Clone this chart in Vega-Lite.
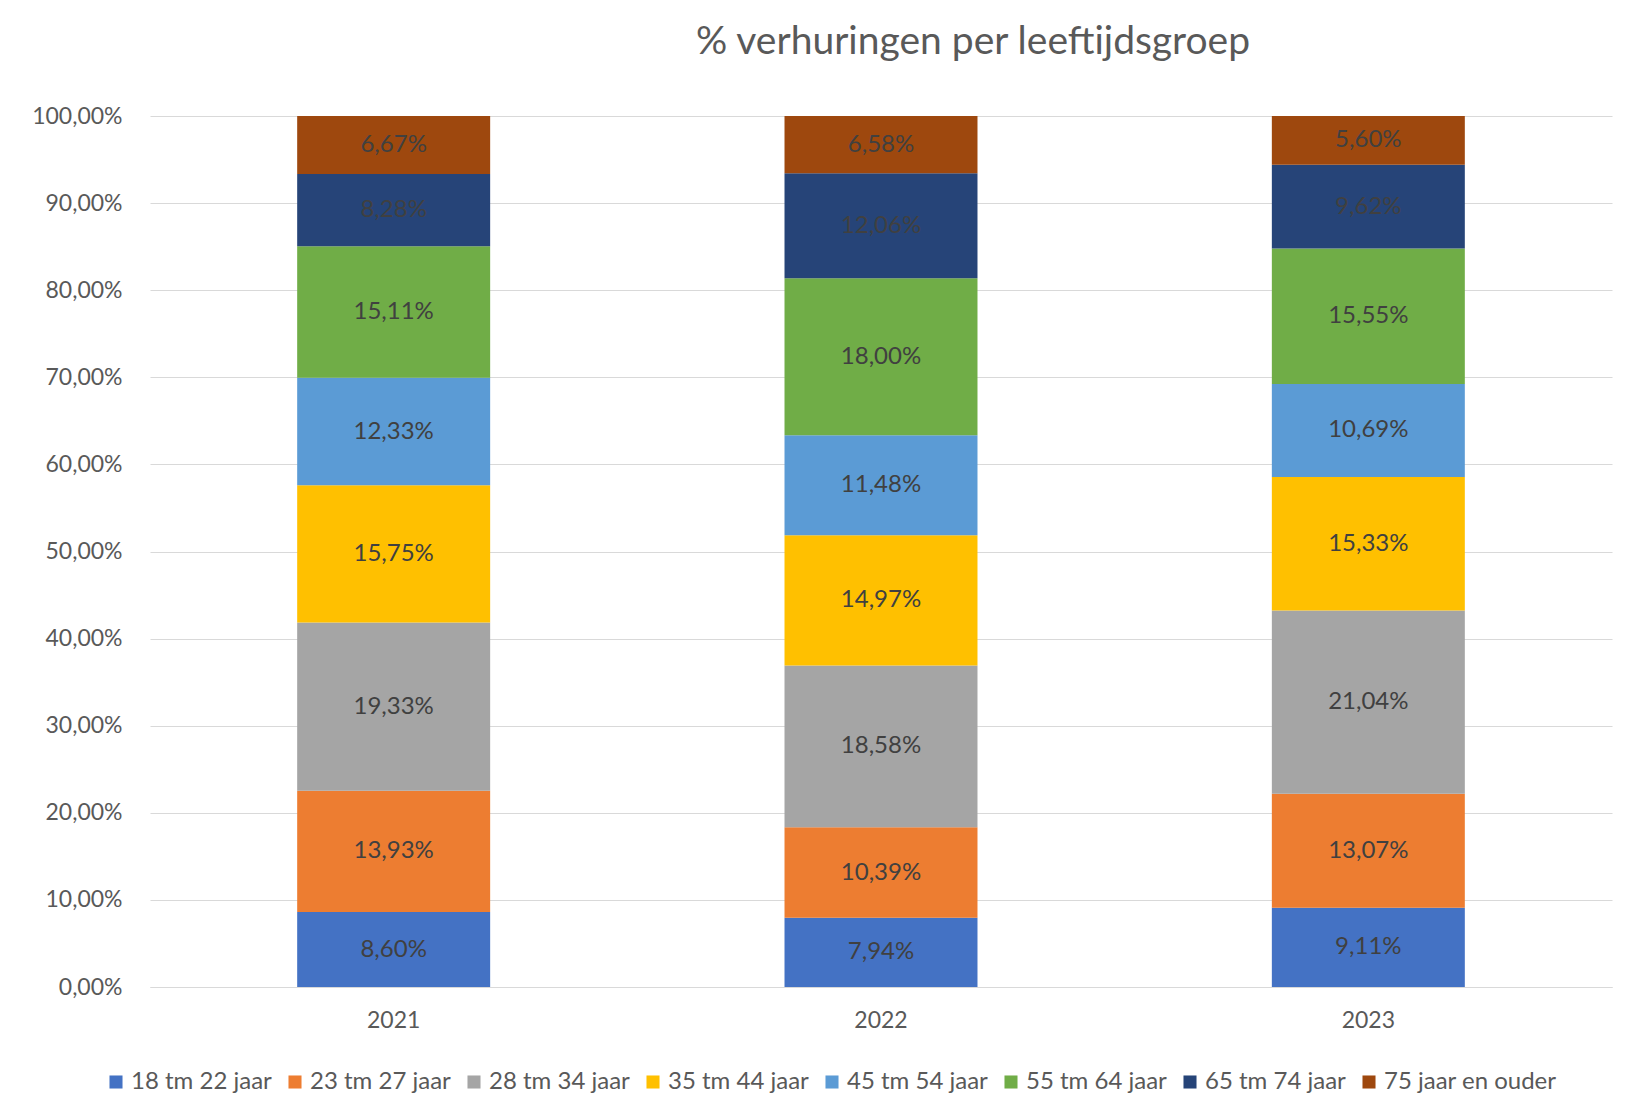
{
  "$schema": "https://vega.github.io/schema/vega-lite/v6.json",
  "autosize": "none",
  "width": 1462,
  "height": 871,
  "padding": {"left": 150, "top": 116, "right": 14, "bottom": 131},
  "background": "white",
  "title": {"text": "% verhuringen per leeftijdsgroep", "anchor": "middle", "dx": 92, "offset": 43, "fontSize": 39, "font": "Lato", "fontWeight": "normal", "color": "#595959"},
  "data": {"values": [
    {"jaar": "2021", "groep": "18 tm 22 jaar", "waarde": 0.0860},
    {"jaar": "2021", "groep": "23 tm 27 jaar", "waarde": 0.1393},
    {"jaar": "2021", "groep": "28 tm 34 jaar", "waarde": 0.1933},
    {"jaar": "2021", "groep": "35 tm 44 jaar", "waarde": 0.1575},
    {"jaar": "2021", "groep": "45 tm 54 jaar", "waarde": 0.1233},
    {"jaar": "2021", "groep": "55 tm 64 jaar", "waarde": 0.1511},
    {"jaar": "2021", "groep": "65 tm 74 jaar", "waarde": 0.0828},
    {"jaar": "2021", "groep": "75 jaar en ouder", "waarde": 0.0667},
    {"jaar": "2022", "groep": "18 tm 22 jaar", "waarde": 0.0794},
    {"jaar": "2022", "groep": "23 tm 27 jaar", "waarde": 0.1039},
    {"jaar": "2022", "groep": "28 tm 34 jaar", "waarde": 0.1858},
    {"jaar": "2022", "groep": "35 tm 44 jaar", "waarde": 0.1497},
    {"jaar": "2022", "groep": "45 tm 54 jaar", "waarde": 0.1148},
    {"jaar": "2022", "groep": "55 tm 64 jaar", "waarde": 0.1800},
    {"jaar": "2022", "groep": "65 tm 74 jaar", "waarde": 0.1206},
    {"jaar": "2022", "groep": "75 jaar en ouder", "waarde": 0.0658},
    {"jaar": "2023", "groep": "18 tm 22 jaar", "waarde": 0.0911},
    {"jaar": "2023", "groep": "23 tm 27 jaar", "waarde": 0.1307},
    {"jaar": "2023", "groep": "28 tm 34 jaar", "waarde": 0.2104},
    {"jaar": "2023", "groep": "35 tm 44 jaar", "waarde": 0.1533},
    {"jaar": "2023", "groep": "45 tm 54 jaar", "waarde": 0.1069},
    {"jaar": "2023", "groep": "55 tm 64 jaar", "waarde": 0.1555},
    {"jaar": "2023", "groep": "65 tm 74 jaar", "waarde": 0.0962},
    {"jaar": "2023", "groep": "75 jaar en ouder", "waarde": 0.0560}
  ]},
  "transform": [
    {"stack": "waarde", "groupby": ["jaar"], "sort": [{"field": "groep", "order": "ascending"}], "as": ["y0", "y1"]}
  ],
  "encoding": {
    "x": {
      "field": "jaar", "type": "nominal",
      "scale": {"paddingInner": 0.604, "paddingOuter": 0.302},
      "axis": {"title": null, "labelAngle": 0, "ticks": false, "domain": true, "domainColor": "#d9d9d9", "labelPadding": 22, "labelFontSize": 23, "labelFont": "Lato", "labelColor": "#595959"}
    }
  },
  "layer": [
    {
      "mark": {"type": "bar"},
      "encoding": {
        "y": {
          "field": "y0", "type": "quantitative",
          "scale": {"domain": [0, 1], "nice": false},
          "axis": {"title": null, "values": [0, 0.1, 0.2, 0.3, 0.4, 0.5, 0.6, 0.7, 0.8, 0.9, 1], "format": ".2%", "ticks": false, "domain": false, "grid": true, "gridColor": "#d9d9d9", "labelPadding": 28, "labelFontSize": 23, "labelFont": "Lato", "labelColor": "#595959"}
        },
        "y2": {"field": "y1"},
        "color": {
          "field": "groep", "type": "nominal",
          "scale": {
            "domain": ["18 tm 22 jaar", "23 tm 27 jaar", "28 tm 34 jaar", "35 tm 44 jaar", "45 tm 54 jaar", "55 tm 64 jaar", "65 tm 74 jaar", "75 jaar en ouder"],
            "range": ["#4472C4", "#ED7D31", "#A5A5A5", "#FFC000", "#5B9BD5", "#70AD47", "#264478", "#9E480E"]
          },
          "legend": {
            "title": null, "orient": "none", "direction": "horizontal", "legendX": -46, "legendY": 954,
            "symbolType": "square", "symbolSize": 170, "symbolStrokeWidth": 0,
            "labelFontSize": 24, "labelFont": "Lato", "labelColor": "#595959", "labelLimit": 0, "columnPadding": 11, "labelOffset": 3
          }
        }
      }
    },
    {
      "transform": [
        {"fold": ["y0", "y1"], "as": ["rand", "pos"]},
        {"aggregate": [{"op": "mean", "field": "pos", "as": "midden"}], "groupby": ["jaar", "groep", "waarde"]}
      ],
      "mark": {"type": "text", "font": "Lato", "fontSize": 24, "color": "#404040", "baseline": "middle", "align": "center"},
      "encoding": {
        "y": {"field": "midden", "type": "quantitative", "scale": {"domain": [0, 1], "nice": false}},
        "text": {"field": "waarde", "type": "quantitative", "format": ".2%"}
      }
    }
  ],
  "config": {
    "locale": {"number": {"decimal": ",", "thousands": ".", "grouping": [3], "currency": ["€ ", ""]}},
    "view": {"stroke": null}
  }
}
